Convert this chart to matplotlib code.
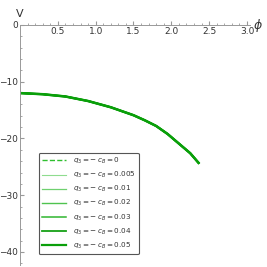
import numpy as np
import matplotlib.pyplot as plt

# potential curve (all q3 values overlap)
phi = [0.0, 0.3, 0.6, 0.9, 1.2, 1.5, 1.65, 1.8, 1.95, 2.1, 2.25, 2.36]
V = [-12.0, -12.2, -12.6, -13.4, -14.5, -15.9, -16.8, -17.8, -19.2, -20.9, -22.6, -24.3]

q_values = ["0", "0.005", "0.01", "0.02", "0.03", "0.04", "0.05"]
colors = ["#2fbf2f", "#8fdc8f", "#6fd06f", "#4fc34f", "#2fb52f", "#16a016", "#0a9f0a"]
widths = [1.0, 0.8, 0.9, 1.0, 1.1, 1.3, 1.6]

fig = plt.figure(figsize=(2.67, 2.67), dpi=100)
ax = fig.add_axes([20 / 267, 2 / 267, 230 / 267, 240 / 267])

for i, q in enumerate(q_values):
    ls = "--" if i == 0 else "-"
    ax.plot(phi, V, color=colors[i], lw=widths[i], ls=ls,
            label=r"$q_3 = -\,c_B = %s$" % q)
ax.plot(phi, V, color="#0a9f0a", lw=1.8)

ax.set_xlim(0, 3.04)
ax.set_ylim(-42.3, 0)

for s in ["top", "right"]:
    ax.spines[s].set_visible(False)
ax.spines["left"].set_position(("data", 0))
ax.spines["bottom"].set_position(("data", 0))
for s in ["left", "bottom"]:
    ax.spines[s].set_color("#999999")
    ax.spines[s].set_linewidth(0.7)

ax.set_xticks([0.5, 1.0, 1.5, 2.0, 2.5, 3.0])
ax.set_xticklabels(["0.5", "1.0", "1.5", "2.0", "2.5", "3.0"])
ax.set_xticks(np.arange(0.1, 3.05, 0.1), minor=True)
ax.set_yticks([0, -10, -20, -30, -40])
ax.set_yticklabels(["0", "\u221210", "\u221220", "\u221230", "\u221240"])
ax.set_yticks(np.arange(-42, 0, 2), minor=True)
ax.tick_params(axis="both", which="major", direction="in", length=3,
               color="#999999", labelsize=6.5, labelcolor="#333333", pad=1.5)
ax.tick_params(axis="both", which="minor", direction="in", length=1.5,
               color="#999999")

fig.text(20 / 267, 1 - 14 / 267, "V", fontsize=8, color="#333333",
         ha="center", va="center")
fig.text(258 / 267, 1 - 25 / 267, r"$\phi$", fontsize=9, color="#333333",
         ha="center", va="center")

leg = ax.legend(loc="lower left", bbox_to_anchor=(39 / 267, 1 - 254 / 267),
                bbox_transform=fig.transFigure, fontsize=5.2, handlelength=3.3,
                labelspacing=0.54, borderpad=0.45, handletextpad=0.9,
                frameon=True, fancybox=True, framealpha=1, borderaxespad=0)
leg.get_frame().set_edgecolor("#555555")
leg.get_frame().set_linewidth(0.8)
for t in leg.get_texts():
    t.set_color("#333333")

fig.savefig("out.png", dpi=100)
